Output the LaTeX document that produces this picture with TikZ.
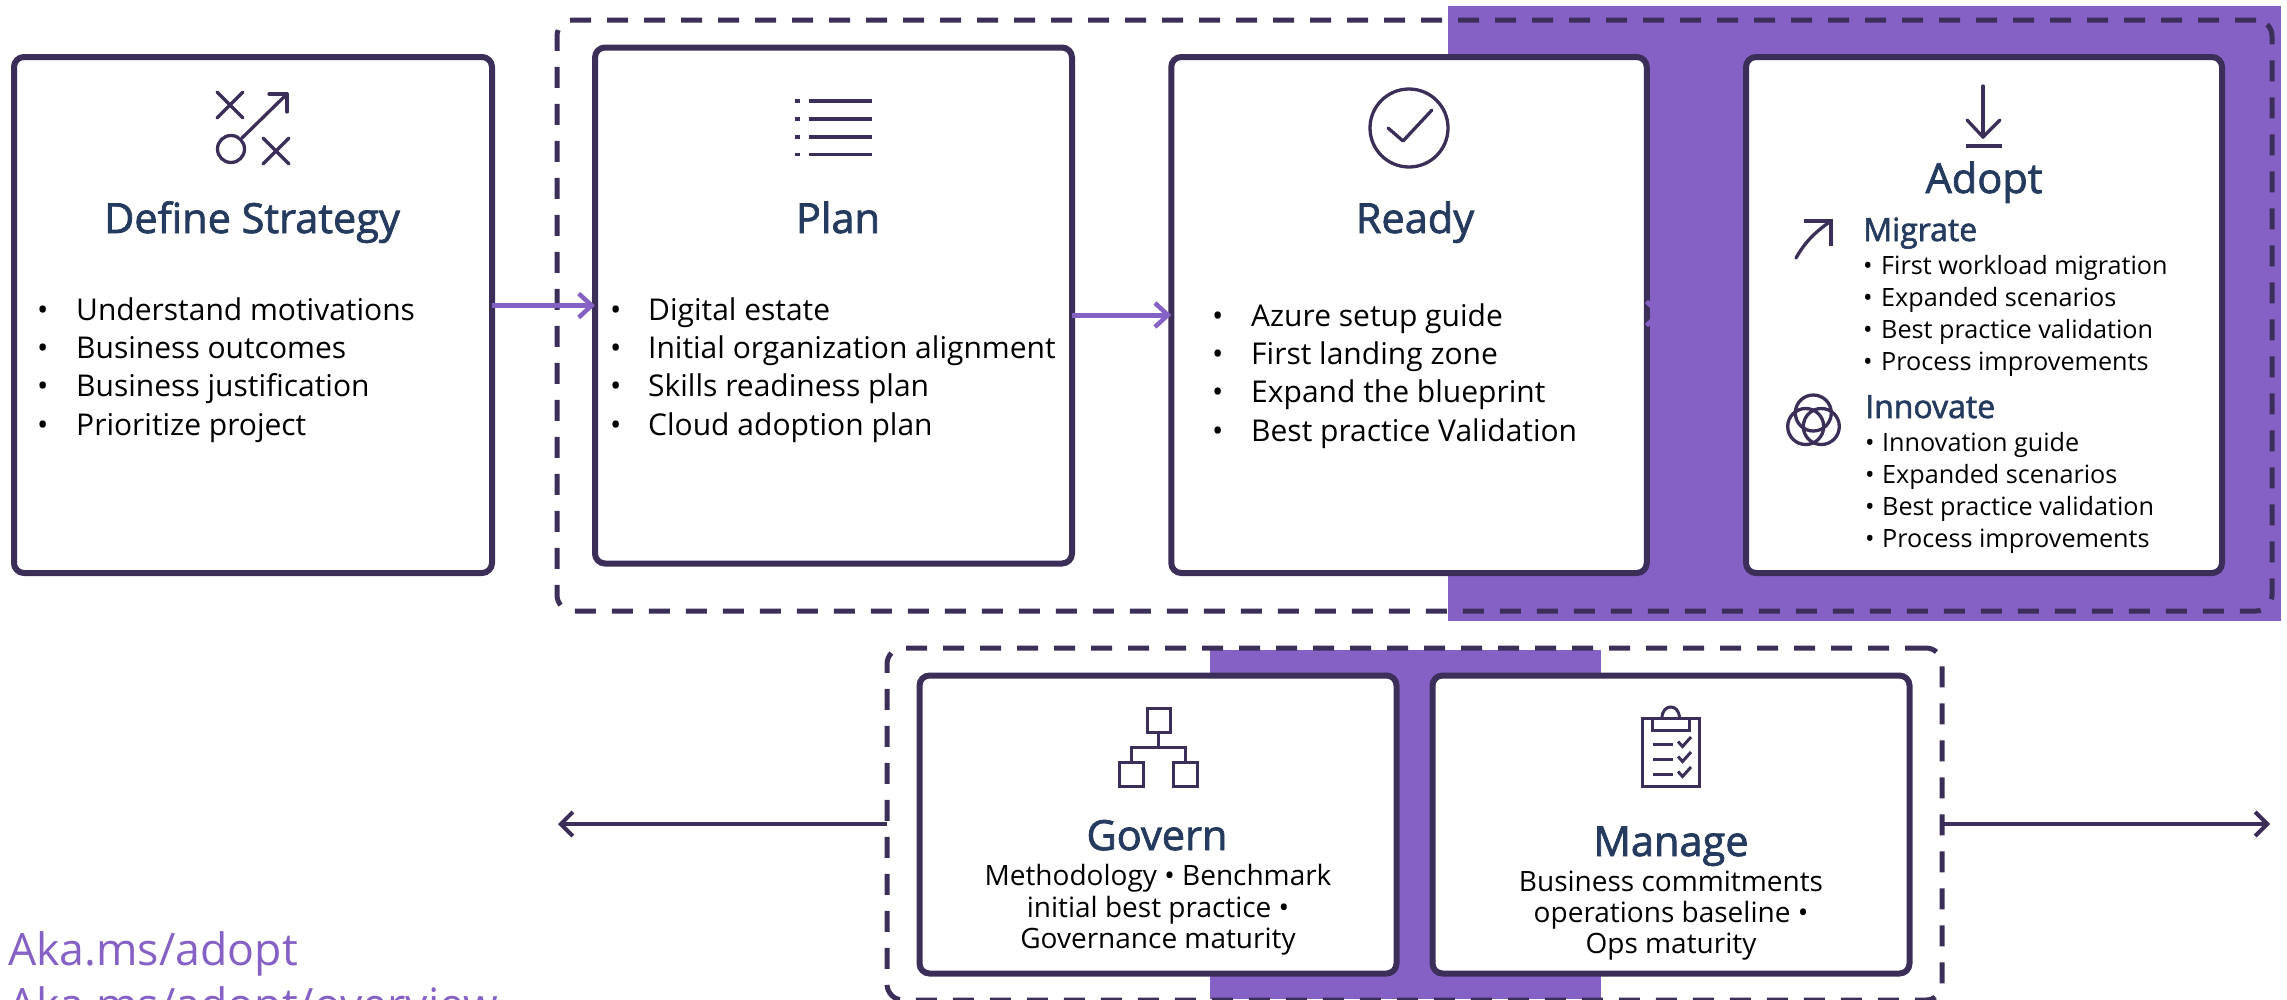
\documentclass[tikz,border=0pt]{standalone}
\usepackage{fontspec}
\setmainfont{Open Sans}
\newfontfamily\ttlfont[FakeBold=1.8]{Open Sans}
\usetikzlibrary{arrows.meta}
\definecolor{ink}{HTML}{3B2E58}
\definecolor{vio}{HTML}{8661C5}
\definecolor{navy}{HTML}{243A5E}
\tikzset{
  x=1pt,y=-1pt,
  card/.style={draw=ink,fill=white,line width=6pt,rounded corners=10pt,inner sep=0pt,outer sep=0pt},
  frame/.style={draw=ink,line width=5pt,rounded corners=16pt,inner sep=0pt,outer sep=0pt,dash pattern=on 21pt off 16pt},
  band/.style={fill=vio,draw=none,inner sep=0pt,outer sep=0pt},
  ttl/.style={text=navy,inner sep=0pt,anchor=base,font=\ttlfont\fontsize{41.5}{46}\selectfont},
  subttl/.style={text=navy,inner sep=0pt,anchor=base west,font=\ttlfont\fontsize{32}{38}\selectfont},
  bigitem/.style={text=black,inner sep=0pt,anchor=base west,font=\fontsize{30}{38}\selectfont},
  smallitem/.style={text=black,inner sep=0pt,anchor=base west,font=\fontsize{25.2}{32}\selectfont},
  mid/.style={text=black,inner sep=0pt,anchor=base,font=\fontsize{28}{32}\selectfont},
  link/.style={text=vio,inner sep=0pt,anchor=base west,font=\fontsize{44.6}{60}\selectfont},
  icon/.style={draw=ink,line width=3.3pt,line cap=round,line join=round,fill=none},
  icons/.style={draw=ink,line width=3pt,line join=miter,fill=none},
  parrow/.style={draw=vio,line width=5pt,-{Straight Barb[length=13pt,width=24pt,line width=4.5pt]}},
  darrow/.style={draw=ink,line width=4.5pt,-{Straight Barb[length=12pt,width=24pt,line width=4pt]}},
}
\newcommand{\itemlist}[6]{% style,prefix,x,bulletgap,step,items
  \foreach \t [count=\i from 0] in {#6}{
    \node[#1] (#2-\i) at (#3,{#5*\i+\csname base#2\endcsname}) {\makebox[#4pt][l]{•}\t};
  }
}
\begin{document}
\begin{tikzpicture}
\useasboundingbox (0,0) rectangle (2287,999);
\clip (0,0) rectangle (2287,999);
% backgrounds
\node[band,minimum width=833pt,minimum height=615pt] (bandtop) at (1864.5,313.5) {};
\node[band,minimum width=391pt,minimum height=349pt] (bandlow) at (1405.5,824.5) {};
% frames
\node[frame,minimum width=1715pt,minimum height=591pt] (outer) at (1414.5,315.5) {};
\node[frame,minimum width=1055pt,minimum height=352pt] (lower) at (1414.5,824) {};
% cards
\node[card,minimum width=478pt,minimum height=516pt] (strategy) at (253,315) {};
\node[card,minimum width=477pt,minimum height=516pt] (plan) at (833.5,305.5) {};
\node[card,minimum width=475.5pt,minimum height=516pt] (ready) at (1409,315) {};
\node[card,minimum width=476pt,minimum height=516pt] (adopt) at (1984,315) {};
\node[card,minimum width=477pt,minimum height=298pt] (govern) at (1158,824.5) {};
\node[card,minimum width=477pt,minimum height=298pt] (manage) at (1671,824.5) {};
% connectors
\draw[parrow] (strategy.east |- plan.west) -- (plan.west);
\draw[parrow] (plan.east |- ready.west) -- (ready.west);
\draw[parrow,shorten <=3.5pt] ([yshift=1.5pt]ready.east) -- ([xshift=16pt,yshift=1.5pt]ready.east);
\coordinate (leftend) at (558,824);
\coordinate (rightend) at (2270,824);
\draw[darrow] (lower.west) -- (leftend);
\draw[darrow] (lower.east) -- (rightend);
% titles
\node[ttl] (tstrategy) at (252,233) {Define Strategy};
\node[ttl] (tplan) at (838,233) {Plan};
\node[ttl] (tready) at (1415,233) {Ready};
\node[ttl] (tadopt) at (1984,193) {Adopt};
\node[ttl] (tgovern) at (1157,850) {Govern};
\node[ttl] (tmanage) at (1671,856) {Manage};
\node[subttl] (tmigrate) at (1863,241) {Migrate};
\node[subttl] (tinnovate) at (1865,418) {Innovate};
% lists
\def\baseS{320}\def\baseP{320}\def\baseR{326}\def\baseM{274}\def\baseI{451}
\itemlist{bigitem}{S}{37}{39}{38.4}{Understand motivations,Business outcomes,Business justification,Prioritize project}
\itemlist{bigitem}{P}{610}{38}{38.4}{Digital estate,Initial organization alignment,Skills readiness plan,Cloud adoption plan}
\itemlist{bigitem}{R}{1212}{39}{38.4}{Azure setup guide,First landing zone,Expand the blueprint,Best practice Validation}
\itemlist{smallitem}{M}{1863}{18}{32}{First workload migration,Expanded scenarios,Best practice validation,Process improvements}
\itemlist{smallitem}{I}{1865}{17}{32}{Innovation guide,Expanded scenarios,Best practice validation,Process improvements}
% mid texts
\node[mid] (g1) at (1158,885) {Methodology • Benchmark};
\node[mid] (g2) at (1158,917) {initial best practice •};
\node[mid] (g3) at (1158,948) {Governance maturity};
\node[mid] (m1) at (1671,891) {Business commitments};
\node[mid] (m2) at (1671,922) {operations baseline •};
\node[mid] (m3) at (1671,953) {Ops maturity};
% links
\node[link] (l1) at (8,965) {Aka.ms/adopt};
\node[link] (l2) at (8,1020) {Aka.ms/adopt/overview};
% icons
\draw[icon] (217,92) -- (243,118) (243,92) -- (217,118);
\draw[icon] (263,138) -- (289,164) (289,138) -- (263,164);
\draw[icon] (231,149) circle (13.5);
\draw[icon] (242,138) -- (287,94);
\draw[icon] (269,94) -- (287,94) -- (287,112);
\foreach \yy in {101,119,137,154.5}{
  \draw[icons,line width=3.5pt] (809,\yy) -- (872,\yy);
  \draw[icons,line width=3.5pt] (795,\yy) -- (800,\yy);
}
\draw[icon] (1409,128) circle (39);
\draw[icon] (1388,128) -- (1403,141) -- (1432,110);
\draw[icon] (1983,86) -- (1983,137);
\draw[icon] (1967,120) -- (1983,137) -- (2000,120);
\draw[icons,line width=3.5pt] (1966,146) -- (2002,146);
\draw[icon] (1796,258) .. controls (1805,242) and (1815,232) .. (1831,221);
\draw[icon,line cap=butt,line join=miter] (1804,221) -- (1831,221) -- (1831,246);
\draw[icon] (1813.3,413) circle (18);
\draw[icon] (1805.7,426.5) circle (18);
\draw[icon] (1821.3,426.5) circle (18);
\draw[icons] (1147,708) rectangle (1170,732);
\draw[icons] (1158,732) -- (1158,747);
\draw[icons] (1131,762) -- (1131,747) -- (1185,747) -- (1185,762);
\draw[icons] (1119.5,762) rectangle (1143,786);
\draw[icons] (1173.5,762) rectangle (1197,786);
\draw[icons] (1642,718) rectangle (1699,786);
\draw[icons] (1652,718) -- (1652,730) -- (1689,730) -- (1689,718);
\draw[icons] (1662,718) .. controls (1662,703.3) and (1679.4,703.3) .. (1679.4,718);
\foreach \yy in {744,759,774}{
  \draw[icons] (1653,\yy) -- (1673,\yy);
  \draw[icons] (1678,\yy-2.5) -- (1682.5,\yy+2.5) -- (1691,\yy-7);
}
\end{tikzpicture}
\end{document}
